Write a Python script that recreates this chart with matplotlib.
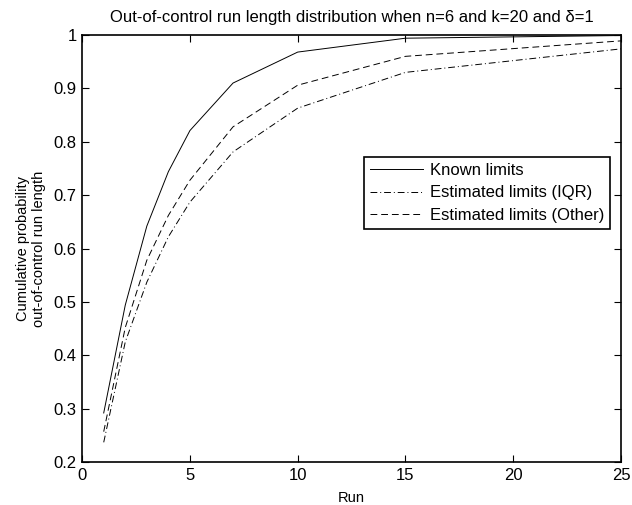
import matplotlib
matplotlib.use("Agg")
import matplotlib.pyplot as plt

plt.rcParams['font.family'] = ['Liberation Sans', 'DejaVu Sans']

runs = [1, 2, 3, 4, 5, 7, 10, 15, 25]
known = [0.292, 0.494, 0.642, 0.744, 0.821, 0.910, 0.968, 0.994, 0.999]
est_iqr = [0.237, 0.425, 0.537, 0.622, 0.687, 0.781, 0.863, 0.930, 0.974]
est_other = [0.257, 0.452, 0.578, 0.662, 0.728, 0.828, 0.906, 0.960, 0.989]

xticks = [0, 5, 10, 15, 20, 25]
yticks = [0.2, 0.3, 0.4, 0.5, 0.6, 0.7, 0.8, 0.9, 1]
yticklabels = ['0.2', '0.3', '0.4', '0.5', '0.6', '0.7', '0.8', '0.9', '1']

fig = plt.figure(figsize=(6.32, 5.05), dpi=100)
ax = fig.add_axes([0.13, 0.085, 0.8526, 0.8457])

ax.plot(runs, known, color='black', linestyle='-', linewidth=0.7, label='Known limits')
ax.plot(runs, est_iqr, color='black', linestyle=(0, (7, 3, 1, 3)), linewidth=0.7, label='Estimated limits (IQR)')
ax.plot(runs, est_other, color='black', linestyle=(0, (7, 4)), linewidth=0.7, label='Estimated limits (Other)')

ax.set_xlim(0, 25)
ax.set_ylim(0.2, 1)
ax.set_xticks(xticks)
ax.set_yticks(yticks)
ax.set_yticklabels(yticklabels)
ax.tick_params(direction='in', top=True, right=True, length=5, width=0.8, labelsize=12, pad=4)
for s in ax.spines.values():
    s.set_linewidth(1.2)

ax.set_xlabel('Run', fontsize=10.5, labelpad=6)
ax.set_ylabel('Cumulative probability\nout-of-control run length', fontsize=10.5, labelpad=5.5)
ax.set_title('Out-of-control run length distribution when n=6 and k=20 and δ=1',
             fontsize=12, pad=9)

leg = ax.legend(loc='upper right', bbox_to_anchor=(0.98, 0.714), fontsize=12,
                frameon=True, fancybox=False, edgecolor='black', framealpha=1,
                borderpad=0.35, labelspacing=0.45, handlelength=3.2, handletextpad=0.4,
                borderaxespad=0)
leg.get_frame().set_linewidth(1.2)

fig.savefig('out.png', dpi=100)
